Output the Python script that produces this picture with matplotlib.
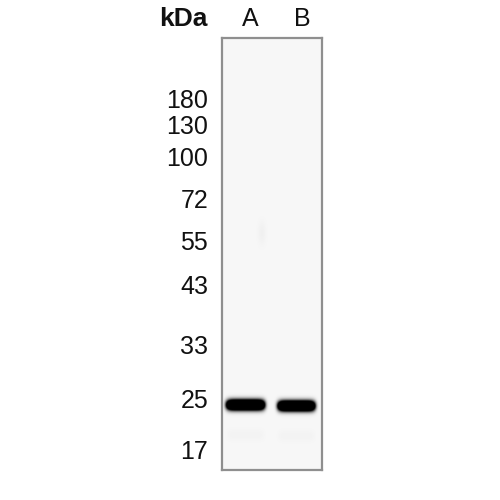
import numpy as np
import matplotlib.pyplot as plt

plt.rcParams['font.family'] = ['Liberation Sans', 'DejaVu Sans']

# marker ladder (kDa) and where each sits on the membrane (px from top of blot)
marker_kda = [180, 130, 100, 72, 55, 43, 33, 25, 17]
marker_pos = [60, 86, 118, 161, 202, 246, 306, 360, 412]

# lanes and detected bands
lanes = ['A', 'B']
lane_center = [23.5, 74.5]
lane_width = [38, 37]
band_pos = [367, 368]
band_strength = [1.0, 0.97]

W, H = 100, 432

fig = plt.figure(figsize=(5, 5), dpi=100)
ax = fig.add_axes([222 / 500, 30 / 500, 100 / 500, 432 / 500])

# build membrane image from the band table
xs = np.linspace(0, W, 400)
ys = np.linspace(0, H, 1728)
X, Y = np.meshgrid(xs, ys)
img = np.full(X.shape, 0.03)
for cx, bw, by, s in zip(lane_center, lane_width, band_pos, band_strength):
    hx = np.exp(-np.abs((X - cx) / (bw / 2)) ** 8)
    hy = np.exp(-((Y - by) / 4.8) ** 2)
    img += 3.0 * s * hx * hy
    # faint smear below main band
    img += 0.02 * hx * np.exp(-((Y - by - 30) / 6) ** 2)
# faint smudge in lane A
img += 0.03 * np.exp(-((X - 40) / 4) ** 2 - ((Y - 195) / 12) ** 2)
img = np.clip(img, 0, 1)

ax.imshow(img, cmap='gray_r', vmin=0, vmax=1, extent=(0, W, H, 0),
          aspect='auto', interpolation='bilinear')
ax.set_xlim(0, W)
ax.set_ylim(H, 0)

for sp in ax.spines.values():
    sp.set_color('#8f8f8f')
    sp.set_linewidth(1.6)

ax.set_xticks([])
ax.set_yticks(marker_pos, [str(k) for k in marker_kda])
ax.tick_params(axis='y', length=0, pad=10, labelsize=18, labelcolor='#111111')

# lane labels and unit
for name, cx in zip(lanes, [28, 80.5]):
    ax.text(cx, -19, name, ha='center', va='center', fontsize=18,
            color='#111111', clip_on=False)
ax.text(-39, -19, 'kDa', ha='center', va='center', fontsize=19,
        fontweight='bold', color='#111111', clip_on=False)

fig.savefig('out.png', dpi=100)
